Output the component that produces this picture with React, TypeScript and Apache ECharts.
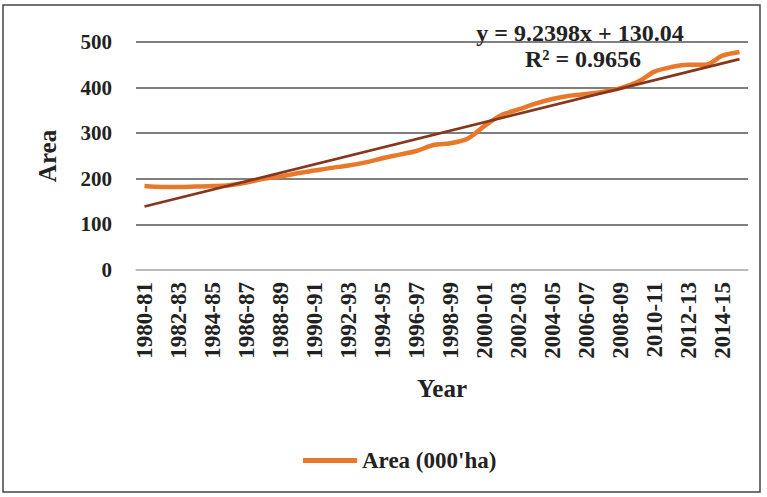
import React, { useEffect, useRef } from "react";
import * as echarts from "echarts";

const categories = [
  "1980-81", "1981-82", "1982-83", "1983-84", "1984-85", "1985-86", "1986-87", "1987-88",
  "1988-89", "1989-90", "1990-91", "1991-92", "1992-93", "1993-94", "1994-95", "1995-96",
  "1996-97", "1997-98", "1998-99", "1999-00", "2000-01", "2001-02", "2002-03", "2003-04",
  "2004-05", "2005-06", "2006-07", "2007-08", "2008-09", "2009-10", "2010-11", "2011-12",
  "2012-13", "2013-14", "2014-15", "2015-16",
];

const areaValues = [
  184, 182, 182, 183, 184, 186, 192, 200, 205, 212, 218, 224, 229, 236, 245, 253, 261, 274,
  278, 288, 316, 340, 352, 365, 375, 382, 386, 391, 399, 412, 435, 445, 450, 450, 470, 478,
];

const yTicks = [0, 100, 200, 300, 400, 500];

// Reported trendline: y = slope * x + intercept, x = 1..n
const trendSlope = 9.2398;
const trendIntercept = 130.04;
const trendR2 = 0.9656;

const FONT = "'Liberation Serif', 'Times New Roman', serif";

export default function App() {
  const ref = useRef<HTMLDivElement>(null);

  useEffect(() => {
    if (!ref.current) return;
    const chart = echarts.init(ref.current, null, { renderer: "svg" });
    const n = categories.length;
    const trendStart = trendSlope * 1 + trendIntercept;
    const trendEnd = trendSlope * n + trendIntercept;

    chart.setOption({
      animation: false,
      backgroundColor: "#ffffff",
      grid: { left: 136, right: 19, top: 42, bottom: 227 },
      legend: {
        data: ["Area (000'ha)"],
        left: 298,
        top: 444,
        icon: "rect",
        itemWidth: 54,
        itemHeight: 5,
        itemGap: 4,
        textStyle: { fontFamily: FONT, fontWeight: "bold", fontSize: 23, color: "#222" },
      },
      xAxis: {
        type: "category",
        data: categories,
        boundaryGap: true,
        name: "Year",
        nameLocation: "middle",
        nameGap: 106,
        nameTextStyle: { fontFamily: FONT, fontWeight: "bold", fontSize: 25, color: "#222" },
        axisLine: { show: true, lineStyle: { color: "#cfcfcf", width: 1.5 } },
        axisTick: { show: false },
        axisLabel: {
          interval: 1,
          rotate: 90,
          margin: 12,
          fontFamily: FONT,
          fontWeight: "bold",
          fontSize: 23,
          color: "#222",
        },
      },
      yAxis: {
        type: "value",
        min: yTicks[0],
        max: yTicks[yTicks.length - 1],
        interval: 100,
        name: "Area",
        nameLocation: "middle",
        nameGap: 76,
        nameTextStyle: { fontFamily: FONT, fontWeight: "bold", fontSize: 25, color: "#222" },
        axisLine: { show: false },
        axisTick: { show: false },
        axisLabel: { margin: 24, fontFamily: FONT, fontWeight: "bold", fontSize: 21, color: "#222" },
        splitLine: {
          show: true,
          lineStyle: { color: "#555", width: 1.6 },
        },
      },
      series: [
        {
          name: "Area (000'ha)",
          type: "line",
          data: areaValues,
          smooth: 0.3,
          symbol: "none",
          lineStyle: { color: "#E8782A", width: 4.5 },
          itemStyle: { color: "#E8782A" },
          z: 3,
          markLine: {
            silent: true,
            symbol: ["none", "none"],
            label: { show: false },
            lineStyle: { color: "#86361C", width: 2.8, type: "solid" },
            data: [
              [
                { coord: [categories[0], trendStart] },
                { coord: [categories[n - 1], trendEnd] },
              ],
            ],
            z: 4,
          },
        },
      ],
      graphic: [
        {
          type: "rect",
          shape: { x: 3, y: 5, width: 757, height: 487 },
          style: { fill: "none", stroke: "#444", lineWidth: 1.5 },
          silent: true,
        },
        {
          type: "text",
          x: 580,
          y: 33,
          style: {
            text: `y = ${trendSlope}x + ${trendIntercept.toFixed(2)}`,
            fontFamily: FONT,
            fontWeight: "bold",
            fontSize: 24,
            fill: "#222",
            align: "center",
            verticalAlign: "middle",
          },
          z: 10,
        },
        {
          type: "text",
          x: 583,
          y: 59,
          style: {
            text: `R² = ${trendR2}`,
            fontFamily: FONT,
            fontWeight: "bold",
            fontSize: 24,
            fill: "#222",
            align: "center",
            verticalAlign: "middle",
          },
          z: 10,
        },
      ],
    });

    return () => chart.dispose();
  }, []);

  return (
    <div
      ref={ref}
      style={{ position: "fixed", left: 0, top: 0, width: 767, height: 497 }}
    />
  );
}
